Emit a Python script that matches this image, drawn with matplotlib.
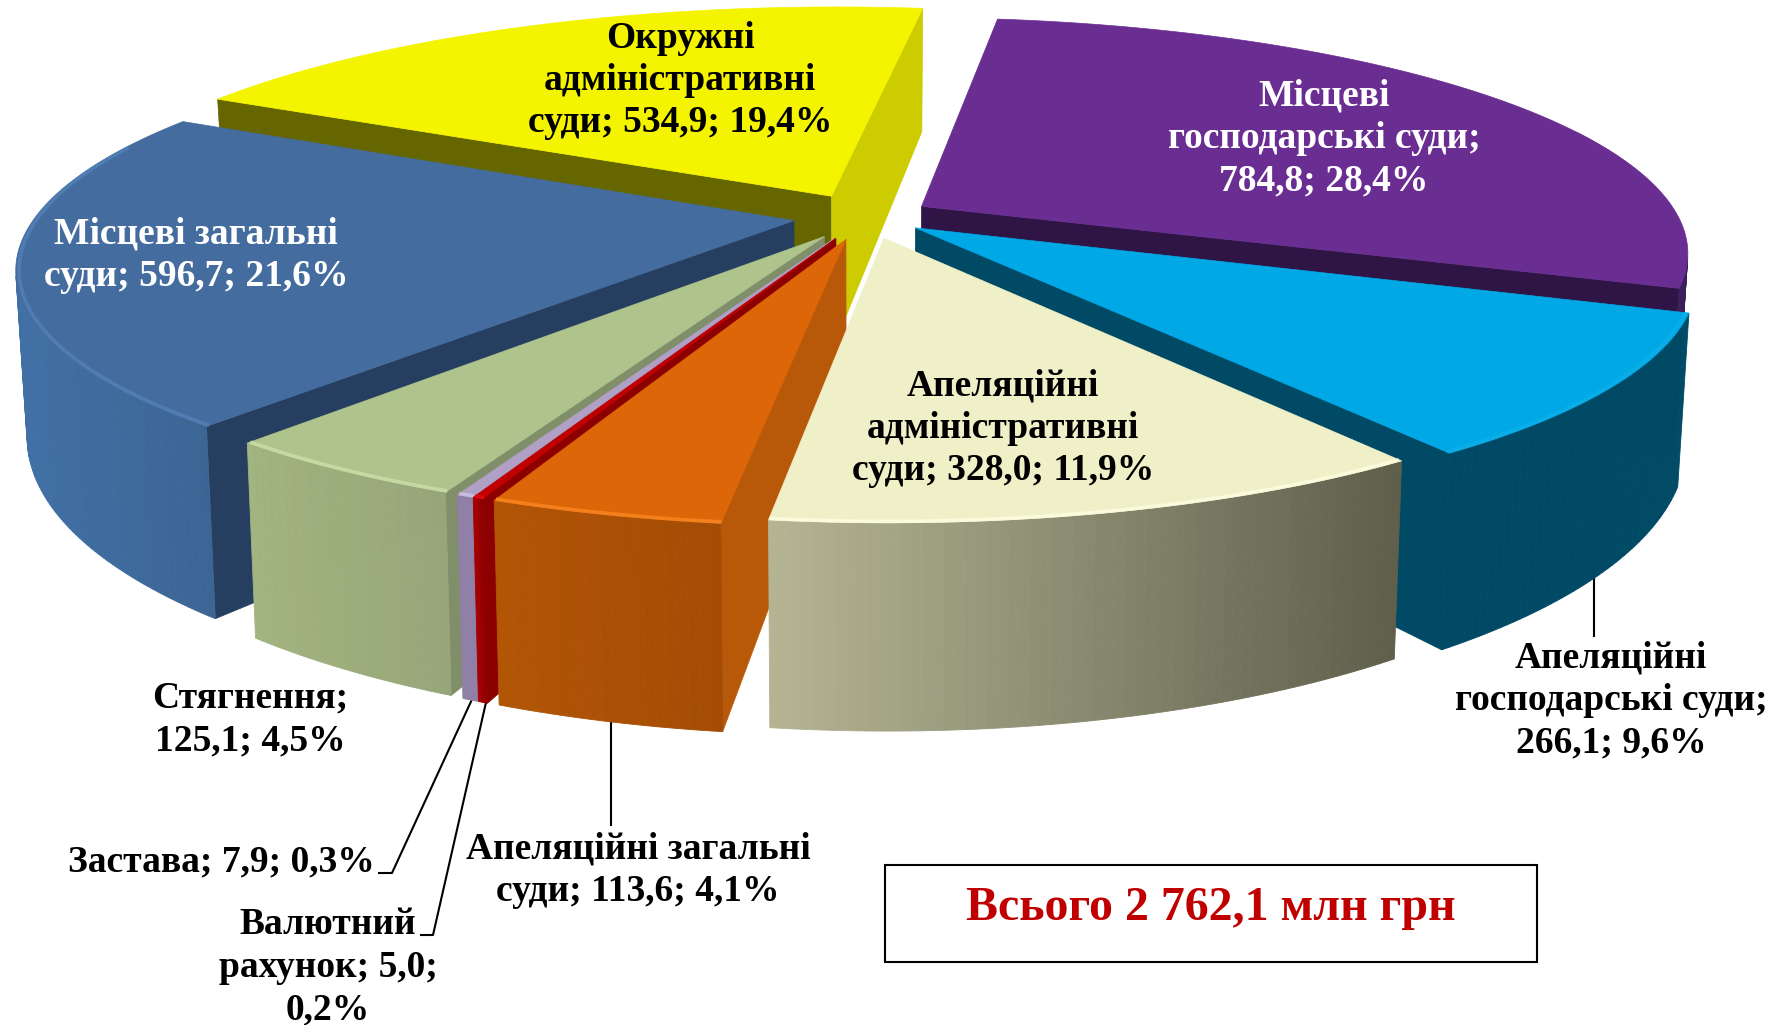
import numpy as np
import matplotlib
matplotlib.use("Agg")
import matplotlib.pyplot as plt
from matplotlib.patches import Polygon, Rectangle
from matplotlib.colors import to_rgb

names = ["Місцеві господарські суди", "Апеляційні господарські суди", "Апеляційні адміністративні суди",
         "Апеляційні загальні суди", "Валютний рахунок", "Застава", "Стягнення",
         "Місцеві загальні суди", "Окружні адміністративні суди"]
values = [784.8, 266.1, 328.0, 113.6, 5.0, 7.9, 125.1, 596.7, 534.9]
total_label = "Всього 2 762,1 млн грн"

top_colors = ["#6a2e92", "#00a8e6", "#f0f0c8", "#dc6608", "#c00000", "#b0a0c6", "#aec48c", "#446c9f", "#f4f400"]
wall_left = ["#3a1f5a", "#004a66", "#b5b594", "#b25606", "#a80000", "#9080a8", "#a2b480", "#4170a6", "#cccc00"]
wall_right = ["#3a1f5a", "#004a66", "#5e5e4c", "#a44c05", "#8c0000", "#9080a8", "#97a679", "#3c6594", "#cccc00"]
start_face = ["#3a1f5a", "#004a66", "#8a8a70", "#b8590a", "#8c0000", "#9080a8", "#808e6a", "#263f60", "#666600"]
end_face = ["#2f1545", "#004a66", "#8a8a70", "#b8590a", "#8c0000", "#9080a8", "#808e6a", "#263f60", "#cccc00"]
bevel = ["#6a2e92", "#10b0ea", "#ffffe6", "#ff8c24", "#e01010", "#d4c6ea", "#d2e2ae", "#5484bc", "#f4f400"]
explode = [0.085, 0.08, 0.095, 0.10, 0.10, 0.10, 0.10, 0.095, 0.10]
radius = [0.983, 0.985, 0.96, 0.965, 0.965, 0.965, 0.965, 0.985, 1.005]
draw_order = [8, 0, 7, 1, 6, 5, 4, 3, 2]

label_lines = [["Місцеві", "господарські суди;", "{v}; {p}%"],
               ["Апеляційні", "господарські суди;", "{v}; {p}%"],
               ["Апеляційні", "адміністративні", "суди; {v}; {p}%"],
               ["Апеляційні загальні", "суди; {v}; {p}%"],
               ["Валютний", "рахунок; {v};", "{p}%"],
               ["Застава; {v}; {p}%"],
               ["Стягнення;", "{v}; {p}%"],
               ["Місцеві загальні", "суди; {v}; {p}%"],
               ["Окружні", "адміністративні", "суди; {v}; {p}%"]]
label_pos = [(1324, 96), (1611, 658), (1003, 386), (638, 849), (328, 925), (221, 862), (250, 698), (196, 234), (680, 38)]
label_color = ["white", "black", "black", "black", "black", "black", "black", "white", "black"]

START_DEG = 7.7
CX, CY, RX, RY, K = 866.0, 216.5, 770.0, 232.0, 0.193


def project(x, y):
    w = 1 + K * y
    return CX + RX * x / w, CY - RY * y / w


def drop(X, Y):
    d = 122 + 0.165 * Y
    return X + (860 - X) * 0.0135, Y + d


def area(P):
    x, y = np.asarray(P).T
    return 0.5 * np.sum(x * np.roll(y, -1) - y * np.roll(x, -1))


fig = plt.figure(figsize=(17.75, 10.25), dpi=100)
ax = fig.add_axes([0, 0, 1, 1])
ax.set_xlim(0, 1775)
ax.set_ylim(1025, 0)
ax.axis("off")

vals = np.array(values)
frac = vals / vals.sum()
edges = np.radians(START_DEG + 360 * np.concatenate([[0], np.cumsum(frac)]))

for i in draw_order:
    t0, t1 = edges[i], edges[i + 1]
    mid = (t0 + t1) / 2
    ex, ey = explode[i] * np.sin(mid), explode[i] * np.cos(mid)
    r = radius[i]
    th = np.linspace(t0, t1, max(6, int(np.degrees(t1 - t0) * 1.5)))
    ax_t, ay_t = project(ex + r * np.sin(th), ey + r * np.cos(th))
    apex = project(ex, ey)
    ax_b, ay_b = drop(ax_t, ay_t)
    apex_b = drop(*apex)
    top = np.vstack([[apex], np.c_[ax_t, ay_t]])
    sign = np.sign(area(top))
    z = 10 + draw_order.index(i) * 10

    f = [(ax_t[0], ay_t[0]), apex, apex_b, (ax_b[0], ay_b[0])]
    if np.sign(area(f)) == sign:
        ax.add_patch(Polygon(f, closed=True, fc=start_face[i], ec=start_face[i], lw=0.5, zorder=z))
    f = [apex, (ax_t[-1], ay_t[-1]), (ax_b[-1], ay_b[-1]), apex_b]
    if np.sign(area(f)) == sign:
        ax.add_patch(Polygon(f, closed=True, fc=end_face[i], ec=end_face[i], lw=0.5, zorder=z))

    xmin, xmax = ax_t.min(), ax_t.max()
    cl, cr = np.array(to_rgb(wall_left[i])), np.array(to_rgb(wall_right[i]))
    for j in range(len(th) - 1):
        q = [(ax_t[j + 1], ay_t[j + 1]), (ax_t[j], ay_t[j]), (ax_b[j], ay_b[j]), (ax_b[j + 1], ay_b[j + 1])]
        if np.sign(area(q)) == sign:
            s = ((ax_t[j] + ax_t[j + 1]) / 2 - xmin) / max(xmax - xmin, 1)
            c = cl + (cr - cl) * s
            ax.add_patch(Polygon(q, closed=True, fc=c, ec=c, lw=0.6, zorder=z + 1))

    ax.add_patch(Polygon(top, closed=True, fc=top_colors[i], ec=top_colors[i], lw=0.5, zorder=z + 2))
    front = th[np.cos(th) < 0.35]
    if len(front) > 1:
        bx, by = project(ex + (r - 0.004) * np.sin(front), ey + (r - 0.004) * np.cos(front))
        ax.plot(bx, by, color=bevel[i], lw=2.6, alpha=0.7, zorder=z + 3, solid_capstyle="butt")

font = dict(family="Liberation Serif", fontweight="bold", fontsize=27, ha="center", va="center", zorder=200)
STEP = 42.5
for i, lines in enumerate(label_lines):
    v = f"{values[i]:.1f}".replace(".", ",")
    p = f"{frac[i] * 100:.1f}".replace(".", ",")
    x, y = label_pos[i]
    for n, line in enumerate(lines):
        ax.text(x, y + n * STEP, line.format(v=v, p=p), color=label_color[i], **font)

leaders = [[(1594, 540), (1594, 636)], [(611, 690), (611, 825)],
           [(474, 695), (392, 873), (379, 873)], [(487, 698), (433, 935), (421, 935)]]
for path in leaders:
    xs, ys = zip(*path)
    ax.plot(xs, ys, color="black", lw=1.5, zorder=5)

ax.add_patch(Rectangle((885, 865), 652, 97, fc="white", ec="black", lw=1.5, zorder=150))
ax.text(1211, 908, total_label, color="#c00000", family="Liberation Serif", fontweight="bold",
        fontsize=34.5, ha="center", va="center", zorder=200)

fig.savefig("out.png", dpi=100, facecolor="white")
